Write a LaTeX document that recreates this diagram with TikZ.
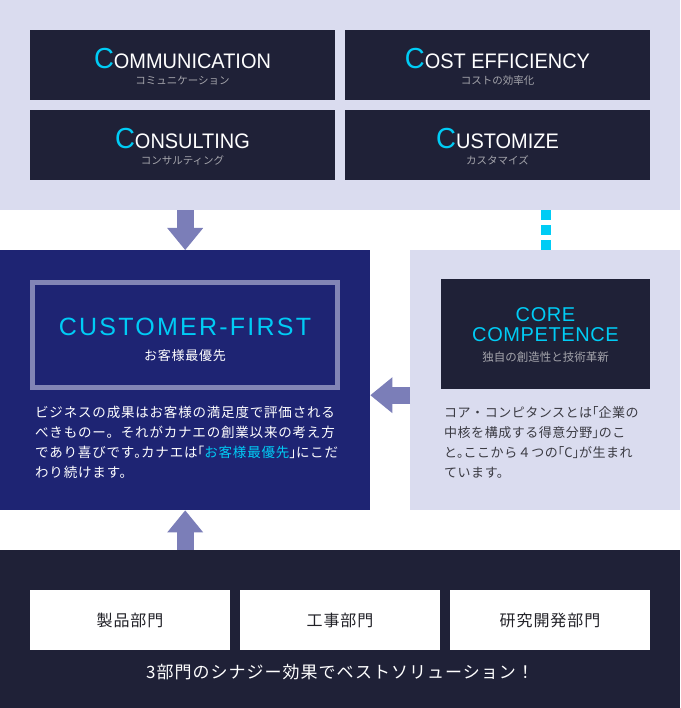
\documentclass[tikz,border=0pt]{standalone}
\usepackage{fontspec}
\setmainfont{Liberation Sans}
\newfontfamily\jpfont{Noto Sans CJK JP}
\newfontfamily\jpwide[LetterSpace=6]{Noto Sans CJK JP}
\newfontfamily\jpnarrow[LetterSpace=4]{Noto Sans CJK JP}
\newfontfamily\capfont[FakeStretch=0.95]{Liberation Sans}
\newfontfamily\headfont[LetterSpace=9]{Liberation Sans}
\newfontfamily\corefont[LetterSpace=3]{Liberation Sans}
\usetikzlibrary{arrows.meta,positioning}

\definecolor{lavender}{RGB}{218,220,239}
\definecolor{navy}{RGB}{31,33,55}
\definecolor{royal}{RGB}{30,36,115}
\definecolor{cyanC}{RGB}{0,204,245}
\definecolor{arrowblue}{RGB}{123,126,184}
\definecolor{framegray}{RGB}{130,133,181}
\definecolor{subgray}{RGB}{165,165,172}
\definecolor{textgray}{RGB}{58,58,66}
\definecolor{depttext}{RGB}{34,34,40}

\newcommand{\bigC}{\textcolor{cyanC}{\fontsize{29}{29}\selectfont C}}
\newcommand{\subjp}[1]{{\jpfont\color{subgray}\fontsize{10.5}{16}\selectfont #1}}
\newcommand{\hw}[1]{{\addfontfeatures{RawFeature=+halt}#1}}

\tikzset{
  band/.style={fill=#1, inner sep=0pt, anchor=north west},
  cbox/.style={fill=navy, minimum width=305pt, minimum height=70pt, inner sep=0pt,
    align=center, text=white, font=\capfont\fontsize{21}{16}\selectfont},
  deptbox/.style={fill=white, minimum width=200pt, minimum height=60pt, inner sep=0pt,
    text=depttext, font=\jpwide\fontsize{16}{16}\selectfont},
  bodytext/.style={inner sep=0pt, align=left, anchor=north west},
  blockarrow/.style={draw=arrowblue, line width=17pt,
    -{Triangle[width=36pt,length=22pt,line width=0pt]}},
  dotlink/.style={draw=cyanC, line width=10pt, dash pattern=on 10pt off 5pt}
}

\begin{document}
\begin{tikzpicture}[x=1pt, y=-1pt]
\useasboundingbox (0,0) rectangle (680,708);
% bands
\node[band=lavender, minimum width=680pt, minimum height=210pt] (topband) at (0,0) {};
\node[band=royal, minimum width=370pt, minimum height=260pt] (cfband) at (0,250) {};
\node[band=lavender, minimum width=270pt, minimum height=260pt] (coreband) at (410,250) {};
\node[band=navy, minimum width=680pt, minimum height=158pt] (deptband) at (0,550) {};
% the four C
\node[cbox] (comm) at (182.5,65) {};
\node[cbox] (cost) at (497.5,65) {};
\node[cbox] (cons) at (182.5,145) {};
\node[cbox] (cust) at (497.5,145) {};
\node[align=center, text=white, font=\capfont\fontsize{21}{16}\selectfont] at ([yshift=-2pt]comm.center)
  {\bigC OMMUNICATION\\\subjp{コミュニケーション}};
\node[align=center, text=white, font=\capfont\fontsize{21}{16}\selectfont] at ([yshift=-2pt]cost.center)
  {\bigC OST EFFICIENCY\\\subjp{コストの効率化}};
\node[align=center, text=white, font=\capfont\fontsize{21}{16}\selectfont] at ([yshift=-2pt]cons.center)
  {\bigC ONSULTING\\\subjp{コンサルティング}};
\node[align=center, text=white, font=\capfont\fontsize{21}{16}\selectfont] at ([yshift=-2pt]cust.center)
  {\bigC USTOMIZE\\\subjp{カスタマイズ}};
% customer first
\node[draw=framegray, line width=5pt, minimum width=305pt, minimum height=105pt,
  inner sep=0pt] (cfframe) at (185,335) {};
\node[align=center, text=cyanC, font=\headfont\fontsize{25}{25}\selectfont] (cftitle)
  at ([yshift=-5pt]cfframe.center)
  {CUSTOMER-FIRST\\{\jpwide\color{white}\fontsize{13}{25}\selectfont お客様最優先}};
\node[bodytext, text=white, font=\jpwide\fontsize{13.5}{20}\selectfont] (cftext) at (35,406)
  {ビジネスの成果はお客様の満足度で評価される\\
   べきものー。それがカナエの創業以来の考え方\\
   であり喜びです\hw{。}カナエは\hw{「}\textcolor{cyanC}{お客様最優先}\hw{」}にこだ\\
   わり続けます。};
% core competence
\node[fill=navy, minimum width=209pt, minimum height=110pt, inner sep=0pt] (corebox) at (545.5,334) {};
\node[align=center, text=cyanC, font=\corefont\fontsize{20}{20}\selectfont] (coretitle)
  at ([yshift=-1pt]corebox.center)
  {CORE\\COMPETENCE\\{\jpfont\color{subgray}\fontsize{11.5}{27}\selectfont 独自の創造性と技術革新}};
\node[bodytext, text=textgray, font=\jpnarrow\fontsize{13}{20}\selectfont] (coretext) at (444,406)
  {コア・コンピタンスとは\hw{「}企業の\\
   中核を構成する得意分野\hw{」}のこ\\
   と\hw{。}ここから４つの\hw{「}C\hw{」}が生まれ\\
   ています。};
% departments
\node[deptbox] (prod) at (130,620) {製品部門};
\node[deptbox] (works) at (340,620) {工事部門};
\node[deptbox] (rnd) at (550,620) {研究開発部門};
\node[text=white, inner sep=0pt, font=\jpwide\fontsize{17}{17}\selectfont] (synergy) at (340,672)
  {3部門のシナジー効果でベストソリューション！};
% links
\draw[blockarrow] (topband.south -| cfband.north) -- (cfband.north);
\draw[blockarrow] (deptband.north -| cfband.south) -- (cfband.south);
\draw[blockarrow] ([yshift=-15pt]coreband.west) -- ([yshift=-15pt]cfband.east);
\draw[dotlink] (topband.south -| corebox.north) -- (coreband.north -| corebox.north);
\end{tikzpicture}
\end{document}
